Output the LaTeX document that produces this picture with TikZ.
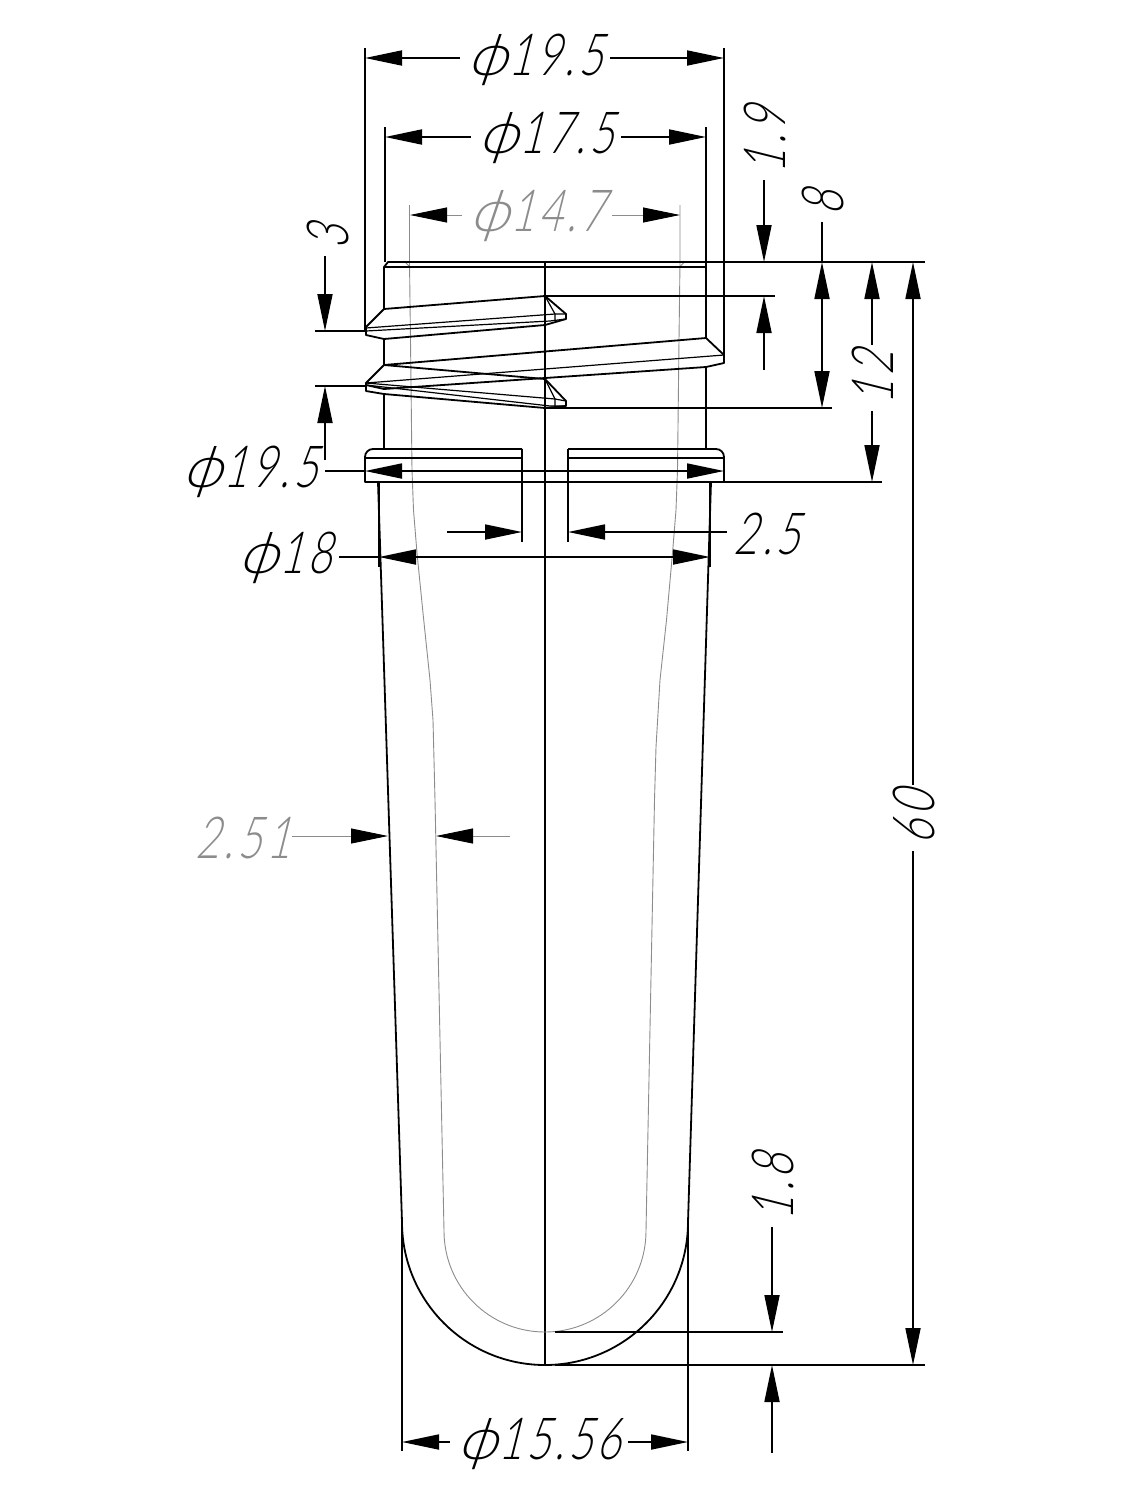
\documentclass[tikz,border=0pt]{standalone}
\usepackage{fontspec}
\setmainfont{Lato}[UprightFont=* Light,FakeSlant=0.25,FakeStretch=0.72,LetterSpace=7]
\usetikzlibrary{arrows.meta}
\newcommand{\dia}{\scalebox{1.35}[1]{ϕ}\hspace{2pt}}
\begin{document}
\begin{tikzpicture}[
        x=1pt,y=-1pt,
        part/.style={draw, line width=1.8pt, line join=round},
        thin part/.style={draw, line width=1.2pt, line join=round},
        inner/.style={draw=black!45, line width=.9pt},
        centre/.style={draw, line width=1.2pt},
        extline/.style={draw, line width=1.8pt},
        dimline/.style={draw, line width=1.8pt, >={Triangle[length=37pt,width=15pt]}},
        greydim/.style={draw=black!45, line width=.9pt, >={Triangle[length=37pt,width=15pt,fill=black,color=black]}},
        dimtext/.style={inner ysep=0pt, inner xsep=7pt, font=\fontsize{58}{58}\selectfont},
        greytext/.style={dimtext, text=black!45},
    ]
    \useasboundingbox (0,0) rectangle (1125,1500);
    % centre line
    \draw[centre] (545,262) -- (545,1365);
    % inner wall
    \draw[inner] (409.5,205) -- (409.5,262) -- (410.5,340) -- (412,470) -- (413.5,510) -- (417,553) -- (423,613) -- (430,680) -- (433,720) -- (435,800)
        -- (444,1231) arc[start angle=180, end angle=90, radius=101];
    \draw[inner] (680,205) -- (680,262) -- (679,340) -- (677.5,470) -- (676,510) -- (672.5,553) -- (666.5,620) -- (660,680) -- (656,747) -- (654.5,800)
        -- (646,1231) arc[start angle=0, end angle=90, radius=101];
    \draw[inner] (405,262) -- (409.5,266.5) (684.5,262) -- (680,266.5);
    % neck
    \draw[part] (384,339) -- (384,365);
    \draw[part] (384,394) -- (384,449);
    \draw[part] (384,309) -- (384,267) -- (388,262) -- (706,262);
    \draw[thin part] (384,267) -- (706,267);
    \draw[part] (706,262) -- (706,338);
    \draw[part] (706,367) -- (706,449);
    % upper thread
    \draw[part] (384,309) -- (366,327) -- (366,335) -- (384,339) -- (545,325) -- (566,319) -- (566,314) -- (545,296) -- cycle;
    \draw[thin part] (366,328) -- (555,314) -- (566,314);
    \draw[thin part] (366,331) -- (550,321) -- (566,319);
    \draw[thin part] (545,296) -- (555,314) -- (555,321);
    % lower thread
    \draw[part] (384,365) -- (706,338) -- (724,355) -- (724,363) -- (706,367) -- (384,389) -- (366,385);
    \draw[thin part] (724,355) -- (366,383);
    \draw[part] (384,365) -- (366,383) -- (366,391) -- (384,394) -- (545,408) -- (566,406) -- (566,401) -- (545,379) -- cycle;
    \draw[thin part] (366,383) -- (555,399) -- (566,401);
    \draw[thin part] (366,385) -- (550,406) -- (566,406);
    \draw[thin part] (545,379) -- (555,399) -- (555,406);
    % flange
    \draw[part] (522,449) -- (373,449) arc[start angle=270, end angle=180, radius=8] -- (365,482) -- (522,482);
    \draw[part] (568,449) -- (716,449) arc[start angle=270, end angle=360, radius=8] -- (724,482) -- (568,482);
    \draw[part] (522,482) -- (568,482);
    \draw[thin part] (365,458) -- (522,458) (568,458) -- (724,458);
    % body
    \draw[part] (378,482) -- (402,1222) arc[start angle=180, end angle=0, radius=143] -- (711,482);
    % extension lines
    \draw[extline] (365,48) -- (365,331);
    \draw[extline] (724,48) -- (724,363);
    \draw[extline] (385,127) -- (385,262);
    \draw[extline] (706,127) -- (706,262);
    \draw[extline] (706,262) -- (925,262);
    \draw[extline] (545,296) -- (775,296);
    \draw[extline] (545,408) -- (832,408);
    \draw[extline] (724,482) -- (882,482);
    \draw[extline] (315,331) -- (365,331);
    \draw[extline] (315,386) -- (365,386);
    \draw[extline] (522,449) -- (522,542);
    \draw[extline] (568,449) -- (568,542);
    \draw[extline] (379,482) -- (379,567);
    \draw[extline] (710,482) -- (710,567);
    \draw[extline] (402,1218) -- (402,1451);
    \draw[extline] (688,1218) -- (688,1451);
    \draw[extline] (555,1332) -- (783,1332);
    \draw[extline] (555,1365) -- (925,1365);
    % top diameters
    \node[dimtext] (topdia) at (535,60) {\dia 19.5};
    \draw[dimline,<-] (365,58) -- (topdia.west |- 365,58);
    \draw[dimline,<-] (724,58) -- (topdia.east |- 724,58);
    \node[dimtext] (threaddia) at (546,138) {\dia 17.5};
    \draw[dimline,<-] (385,137) -- (threaddia.west |- 385,137);
    \draw[dimline,<-] (706,137) -- (threaddia.east |- 706,137);
    \node[greytext] (borediam) at (537,216) {\dia 14.7};
    \draw[greydim,<-] (410,215) -- (borediam.west |- 410,215);
    \draw[greydim,<-] (680,215) -- (borediam.east |- 680,215);
    % thread pitch on the left
    \node[dimtext,rotate=90] (pitchl) at (328,237) {3};
    \draw[dimline,->] (325,0 |- pitchl.west) -- (325,331);
    \draw[dimline,->] (325,460) -- (325,386);
    % heights on the right
    \node[dimtext,rotate=90] (lip) at (765,140) {1.9};
    \draw[dimline,->] (764,0 |- lip.west) -- (764,262);
    \draw[dimline,->] (764,370) -- (764,296);
    \node[dimtext,rotate=90] (eight) at (823,203) {8};
    \draw[dimline] (822,0 |- eight.west) -- (822,262);
    \draw[dimline,<->] (822,262) -- (822,408);
    \node[dimtext,rotate=90] (twelve) at (873,378) {12};
    \draw[dimline,<-] (872,262) -- (872,0 |- twelve.east);
    \draw[dimline,<-] (872,482) -- (872,0 |- twelve.west);
    \node[dimtext,rotate=90] (total) at (914,818) {60};
    \draw[dimline,<-] (913,262) -- (913,0 |- total.east);
    \draw[dimline,<-] (913,1365) -- (913,0 |- total.west);
    % flange and body diameters
    \node[dimtext] (flangedia) at (250,472) {\dia 19.5};
    \draw[dimline] (flangedia.east |- 365,471) -- (365,471);
    \draw[dimline,<->] (365,471) -- (724,471);
    \node[dimtext] (bodydia) at (285,558) {\dia 18};
    \draw[dimline] (bodydia.east |- 379,557) -- (379,557);
    \draw[dimline,<->] (379,557) -- (710,557);
    \node[dimtext] (slot) at (767,534) {2.5};
    \draw[dimline,<-] (568,532) -- (slot.west |- 568,532);
    \draw[dimline,->] (447,532) -- (522,532);
    % wall
    \node[greytext,inner xsep=2pt] (wall) at (243,838) {2.51};
    \draw[greydim,->] (wall.east |- 388,836) -- (388,836);
    \draw[greydim,->] (510,836) -- (436,836);
    % dome
    \node[dimtext,rotate=90] (dome) at (773,1187) {1.8};
    \draw[dimline,->] (772,0 |- dome.west) -- (772,1332);
    \draw[dimline,->] (772,1453) -- (772,1365);
    \node[dimtext] (domedia) at (539,1444) {\dia 15.56};
    \draw[dimline,<-] (402,1442) -- (domedia.west |- 402,1442);
    \draw[dimline,<-] (688,1442) -- (domedia.east |- 688,1442);
    \end{tikzpicture}
\end{document}
